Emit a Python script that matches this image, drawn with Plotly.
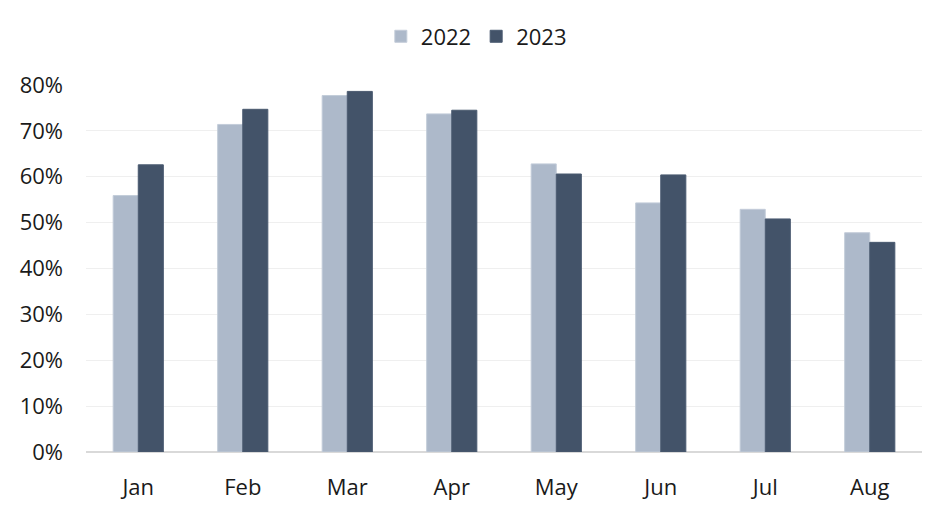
import plotly.graph_objects as go

months = ["Jan", "Feb", "Mar", "Apr", "May", "Jun", "Jul", "Aug"]
y2022 = [0.559, 0.714, 0.777, 0.737, 0.628, 0.543, 0.529, 0.478]
y2023 = [0.626, 0.747, 0.786, 0.745, 0.606, 0.604, 0.508, 0.457]
yticks = [0, 0.1, 0.2, 0.3, 0.4, 0.5, 0.6, 0.7, 0.8]
ytick_labels = ["0%", "10%", "20%", "30%", "40%", "50%", "60%", "70%", "80%"]

fig = go.Figure()
fig.add_trace(go.Bar(x=months, y=y2022, name="2022",
                     marker=dict(color="#adb9ca", line=dict(color="#c3ccd9", width=1))))
fig.add_trace(go.Bar(x=months, y=y2023, name="2023",
                     marker=dict(color="#435369", line=dict(color="#4a5a70", width=1))))

fig.update_layout(
    width=947, height=516,
    margin=dict(l=86, r=25, t=85, b=64, autoexpand=False),
    paper_bgcolor="white", plot_bgcolor="white",
    barmode="group", bargap=0.52, bargroupgap=0,
    font=dict(family="Open Sans, Noto Sans, sans-serif", size=22, color="#1a1a1a"),
    legend=dict(orientation="h", xref="container", x=0.503, xanchor="center",
                yref="container", y=0.97, yanchor="top",
                font=dict(size=22), itemwidth=30, traceorder="normal"),
    showlegend=True,
)
fig.update_xaxes(showgrid=False, showline=False, ticks="", ticklabelstandoff=20,
                 automargin=False)
fig.update_yaxes(range=[0, 0.8], tickvals=yticks, ticktext=ytick_labels,
                 showgrid=True, gridcolor="#efefef", gridwidth=1,
                 zeroline=True, zerolinecolor="#d9d9d9", zerolinewidth=1.5,
                 showline=False, ticks="", ticklabelstandoff=22, automargin=False)

fig.write_html("out.html", config={"displayModeBar": False},
               post_script="document.body.style.margin='0';")
